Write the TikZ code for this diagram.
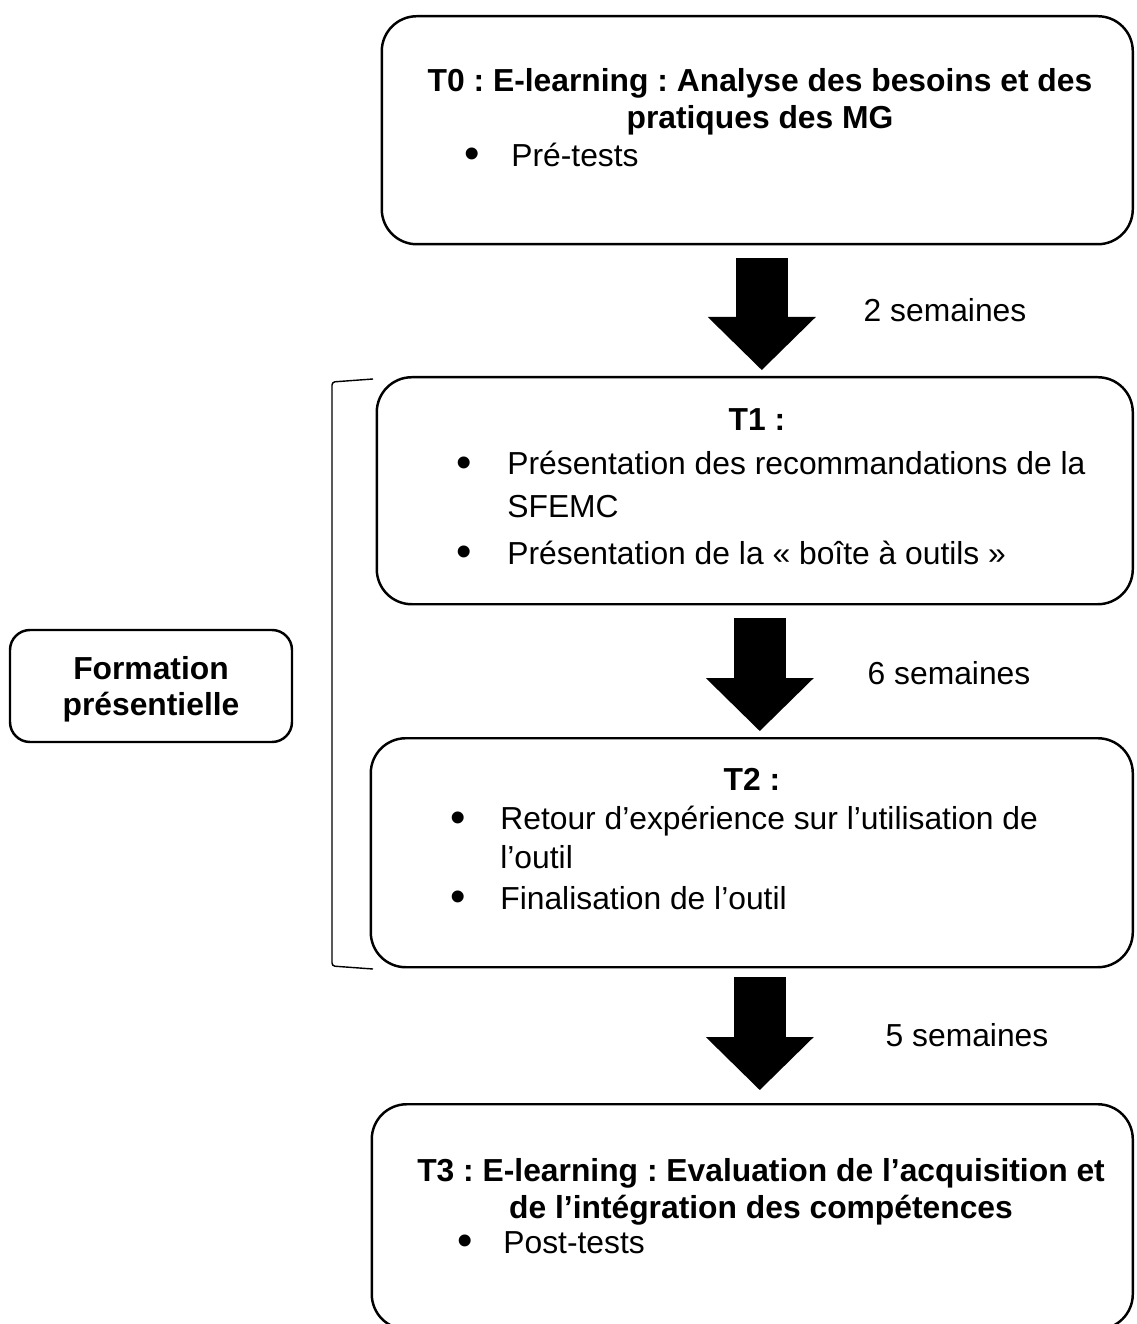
\documentclass[tikz,border=0pt]{standalone}
\usepackage{fontspec}
\setmainfont{Liberation Sans}
\usepackage{tikz}
\usetikzlibrary{arrows.meta,calc,positioning}
\newcommand{\stagefont}{\fontsize{18.1pt}{21pt}\selectfont\frenchspacing}
\newcommand{\bul}{\raisebox{-0.07em}{\fontsize{25pt}{21pt}\selectfont\textbullet}}

\begin{document}
\begin{tikzpicture}[
      stage/.style={rectangle, rounded corners=0.7cm, draw=black, line width=1.4pt, anchor=north east, minimum height=4.56cm, inner sep=0pt},
      side/.style={rectangle, rounded corners=0.4cm, draw=black, line width=1.4pt, minimum width=5.64cm, minimum height=2.24cm, align=center, font=\stagefont\bfseries},
      head/.style={anchor=north, align=center, inner sep=0pt, font=\stagefont\bfseries},
      items/.style={anchor=north west, align=left, inner sep=0pt, font=\stagefont},
      delay/.style={inner sep=0pt, font=\stagefont},
      blockarrow/.style={line width=1.04cm, -{Triangle[width=2.16cm 0 0, length=1.06cm 0 0, line width=0pt]}}
    ]
      \useasboundingbox (0,0) rectangle (22.72,-26.48);

      \node[stage, minimum width=15.02cm] (t0) at (22.68,-0.30) {};
      \node[stage, minimum width=15.12cm, minimum height=4.54cm] (t1) at (22.68,-7.52) {};
      \node[stage, minimum width=15.24cm, minimum height=4.58cm] (t2) at (22.68,-14.74) {};
      \node[stage, minimum width=15.22cm, minimum height=4.50cm] (t3) at (22.68,-22.06) {};

      \node[head] (t0head) at (15.20,-1.36) {T0 : E-learning : Analyse des besoins et des\\pratiques des MG};
      \node[items] (t0list) at (9.28,-2.86) {\makebox[0.94cm][l]{\bul}Pré-tests};

      \node[head] (t1head) at (15.14,-8.16) {T1 :};
      \node[items] (t1list) at (9.12,-9.02) {\makebox[1.02cm][l]{\bul}Présentation des recommandations de la\\[0.12cm]
        \hspace*{1.02cm}SFEMC\\[0.2cm]
        \makebox[1.02cm][l]{\bul}Présentation de la «~boîte à outils~»};

      \node[head] (t2head) at (15.04,-15.36) {T2 :};
      \node[items] (t2list) at (9.00,-16.12) {\makebox[1.0cm][l]{\bul}Retour d’expérience sur l’utilisation de\\[0.04cm]
        \hspace*{1.0cm}l’outil\\[0.08cm]
        \makebox[1.0cm][l]{\bul}Finalisation de l’outil};

      \node[head] (t3head) at (15.22,-23.16) {T3 : E-learning : Evaluation de l’acquisition et\\de l’intégration des compétences};
      \node[items] (t3list) at (9.14,-24.62) {\makebox[0.92cm][l]{\bul}Post-tests};

      \node[side, text depth=0cm] (form) at (3.02,-13.72) {Formation\\présentielle};
      \draw[line width=0.8pt, rounded corners=0.06cm] (7.46,-7.58) -- (6.64,-7.64) -- (6.64,-19.32) -- (7.46,-19.38);

      \draw[blockarrow, shorten <=0.26cm, shorten >=0.12cm] ($(t0.south)+(0.09,0)$) -- ($(t0.south |- t1.north)+(0.09,0)$);
      \draw[blockarrow, shorten <=0.26cm, shorten >=0.12cm] ($(t1.south)+(0.10,0)$) -- ($(t1.south |- t2.north)+(0.10,0)$);
      \draw[blockarrow, shorten <=0.18cm, shorten >=0.26cm] ($(t2.south)+(0.16,0)$) -- ($(t2.south |- t3.north)+(0.16,0)$);

      \node[delay] (d1) at (18.90,-6.20) {2 semaines};
      \node[delay] (d2) at (18.98,-13.46) {6 semaines};
      \node[delay] (d3) at (19.34,-20.70) {5 semaines};
    \end{tikzpicture}
\end{document}
